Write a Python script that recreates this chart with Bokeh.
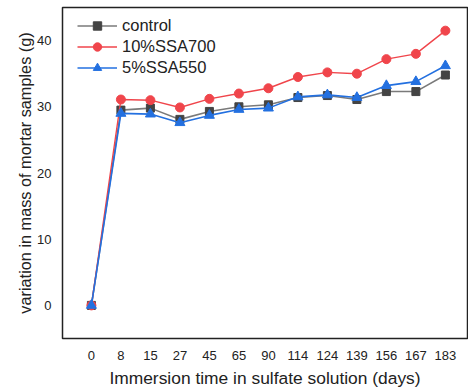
from bokeh.plotting import figure
from bokeh.models import Range1d, FixedTicker, Legend, LegendItem
from bokeh.embed import file_html
from bokeh.resources import INLINE

days = ["0", "8", "15", "27", "45", "65", "90", "114", "124", "139", "156", "167", "183"]
control = [0, 29.5, 29.8, 28.1, 29.3, 30.0, 30.3, 31.4, 31.7, 31.1, 32.3, 32.3, 34.8]
ssa700 = [0, 31.1, 31.0, 29.9, 31.2, 32.0, 32.8, 34.5, 35.2, 35.0, 37.2, 38.0, 41.5]
ssa550 = [0, 29.0, 28.9, 27.6, 28.7, 29.6, 29.8, 31.5, 31.8, 31.4, 33.2, 33.8, 36.2]
y_ticks = [0, 10, 20, 30, 40]

xs = list(range(len(days)))
FONT = "Liberation Sans"

p = figure(width=468, height=392, output_backend="svg", toolbar_location=None,
           x_range=Range1d(-0.98, 12.75), y_range=Range1d(-5, 45),
           min_border_left=62, min_border_right=1, min_border_top=7, min_border_bottom=54)
p.grid.visible = False
p.outline_line_color = "#222222"
p.outline_line_width = 1.5
p.background_fill_color = "white"
p.border_fill_color = "white"

for ax in (p.xaxis[0], p.yaxis[0]):
    ax.axis_line_color = None
    ax.major_tick_line_color = None
    ax.minor_tick_line_color = None
    ax.major_tick_out = 0
    ax.major_tick_in = 0
    ax.minor_tick_out = 0
    ax.major_label_text_font = FONT
    ax.major_label_text_font_size = "13px"
    ax.major_label_text_color = "#222222"
    ax.axis_label_text_font = FONT
    ax.axis_label_text_font_style = "normal"
    ax.axis_label_text_color = "#222222"

p.xaxis.ticker = FixedTicker(ticks=xs)
p.xaxis.major_label_overrides = {i: d for i, d in enumerate(days)}
p.xaxis.major_label_standoff = 12
p.xaxis.axis_label = "Immersion time in sulfate solution (days)"
p.xaxis.axis_label_text_font_size = "17.4px"
p.xaxis.axis_label_standoff = 5

p.yaxis.ticker = FixedTicker(ticks=y_ticks)
p.yaxis.major_label_standoff = 11
p.yaxis.axis_label = "variation in mass of mortar samples (g)"
p.yaxis.axis_label_text_font_size = "16.3px"
p.yaxis.axis_label_standoff = 0

gray_line, gray_mark = "#7a7a7a", "#444444"
red = "#f0454b"
blue = "#2370e0"

l1 = p.line(xs, control, line_color=gray_line, line_width=1.6)
m1 = p.scatter(xs, control, marker="square", size=8, fill_color=gray_mark, line_color=gray_mark)
l2 = p.line(xs, ssa700, line_color=red, line_width=1.4)
m2 = p.scatter(xs, ssa700, marker="circle", size=9, fill_color=red, line_color=red)
l3 = p.line(xs, ssa550, line_color=blue, line_width=1.6)
m3 = p.scatter(xs, ssa550, marker="triangle", size=10, fill_color=blue, line_color=blue)

legend = Legend(items=[
    LegendItem(label="control", renderers=[l1, m1]),
    LegendItem(label="10%SSA700", renderers=[l2, m2]),
    LegendItem(label="5%SSA550", renderers=[l3, m3]),
], location=(15, 260))
legend.border_line_color = None
legend.background_fill_alpha = 0
legend.padding = 0
legend.margin = 0
legend.spacing = 0
legend.glyph_width = 40
legend.glyph_height = 21
legend.label_height = 21
legend.label_standoff = 5
legend.label_text_font = FONT
legend.label_text_font_size = "16.5px"
legend.label_text_color = "#222222"
p.add_layout(legend, "center")

open("out.html", "w").write(file_html(p, INLINE))
